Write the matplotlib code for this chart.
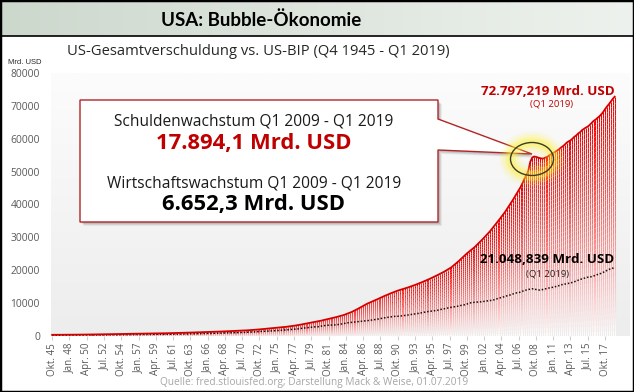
import numpy as np
import matplotlib
matplotlib.use("Agg")

import matplotlib.pyplot as plt
from matplotlib.colors import LinearSegmentedColormap
from matplotlib.lines import Line2D
from matplotlib.patches import Polygon, Ellipse, Rectangle

W, H = 634, 392

# US total credit market debt, Mrd. USD, quarterly Q4 1945 - Q1 2019
debt = [
    355,
    357, 360, 362, 365, 370, 375, 380, 385, 390, 395, 400, 405, 410, 415, 420, 425,
    435, 445, 455, 465, 472, 480, 488, 495, 503, 512, 521, 530, 538, 545, 553, 560,
    567, 575, 582, 590, 602, 615, 627, 640, 648, 657, 666, 675, 683, 692, 701, 710,
    720, 730, 740, 750, 763, 777, 791, 805, 816, 827, 839, 850, 863, 877, 891, 905,
    921, 937, 953, 970, 987, 1005, 1022, 1040, 1060, 1080, 1100, 1120, 1140, 1160, 1180, 1200,
    1220, 1240, 1260, 1280, 1300, 1320, 1340, 1360, 1385, 1410, 1435, 1460, 1485, 1510, 1535, 1560,
    1585, 1610, 1635, 1660, 1700, 1740, 1780, 1820, 1865, 1910, 1960, 2010, 2065, 2120, 2175, 2230,
    2285, 2340, 2395, 2450, 2500, 2550, 2600, 2650, 2725, 2800, 2875, 2950, 3035, 3120, 3210, 3300,
    3410, 3520, 3630, 3740, 3855, 3970, 4085, 4200, 4310, 4420, 4535, 4650, 4785, 4920, 5060, 5200,
    5335, 5470, 5610, 5750, 5910, 6070, 6235, 6400, 6620, 6840, 7070, 7300, 7590, 7880, 8190, 8500,
    8820, 9140, 9470, 9800, 10050, 10300, 10550, 10800, 11075, 11350, 11625, 11900, 12150, 12400, 12650, 12900,
    13125, 13350, 13575, 13800, 13975, 14150, 14325, 14500, 14700, 14900, 15100, 15300, 15525, 15750, 15975, 16200,
    16450, 16700, 16950, 17200, 17475, 17750, 18025, 18300, 18600, 18900, 19200, 19500, 19850, 20200, 20550, 20900,
    21400, 21900, 22400, 22900, 23450, 24000, 24550, 25100, 25575, 26050, 26525, 27000, 27575, 28150, 28725, 29300,
    29925, 30550, 31175, 31800, 32525, 33250, 33975, 34700, 35475, 36250, 37025, 37800, 38700, 39600, 40500, 41400,
    42375, 43350, 44325, 45300, 46500, 47800, 49000, 50200, 52900, 54200, 54600, 54500, 54300, 54100, 54000, 54000,
    54300, 54500, 55000, 55300, 55700, 56000, 56400, 56800, 57300, 57700, 58200, 58800, 59200, 59500, 60000, 60600,
    61000, 61600, 62000, 62600, 63000, 63400, 63700, 64200, 64800, 65400, 65800, 66300, 66800, 67400, 68100, 69000,
    69800, 70500, 71300, 72100,
    72797.219,
]

# US GDP, Mrd. USD, same quarters
gdp = [
    223,
    222, 226, 232, 238, 243, 246, 250, 260, 266, 273, 279, 280, 275, 271, 273, 271,
    281, 290, 308, 320, 336, 344, 352, 356, 360, 361, 368, 381, 389, 392, 391, 386,
    385, 386, 391, 400, 413, 422, 431, 437, 439, 446, 451, 460, 469, 472, 478, 472,
    462, 464, 475, 490, 507, 520, 521, 528, 542, 541, 545, 540, 545, 555, 567, 580,
    594, 600, 609, 612, 621, 629, 644, 653, 669, 679, 692, 698, 719, 732, 750, 773,
    797, 807, 820, 834, 846, 852, 868, 883, 912, 936, 950, 967, 994, 1010, 1030, 1038,
    1051, 1067, 1087, 1091, 1137, 1159, 1180, 1193, 1234, 1272, 1300, 1337, 1388, 1418, 1437, 1480,
    1501, 1531, 1560, 1600, 1617, 1650, 1712, 1763, 1823, 1856, 1890, 1938, 1992, 2060, 2122, 2168,
    2209, 2337, 2389, 2470, 2527, 2586, 2659, 2730, 2797, 2799, 2861, 2975, 3131, 3168, 3265, 3281,
    3274, 3332, 3367, 3407, 3480, 3584, 3692, 3796, 3912, 4016, 4085, 4148, 4237, 4300, 4387, 4444,
    4508, 4545, 4608, 4657, 4722, 4806, 4884, 5008, 5073, 5190, 5282, 5399, 5512, 5615, 5697, 5748,
    5873, 5960, 6015, 6004, 6036, 6126, 6205, 6264, 6363, 6470, 6566, 6680, 6729, 6809, 6882, 7014,
    7115, 7247, 7332, 7457, 7522, 7581, 7684, 7773, 7868, 8033, 8132, 8259, 8363, 8519, 8651, 8743,
    8832, 8924, 9028, 9171, 9297, 9406, 9519, 9721, 9900, 10102, 10160, 10255, 10273, 10374, 10381, 10434,
    10551, 10636, 10700, 10737, 10847, 10980, 11207, 11362, 11530, 11723, 11872, 12035, 12246, 12373, 12587, 12779,
    12982, 13126, 13200, 13363, 13631, 13826, 13993, 14157, 14240, 14342, 14360, 14151, 14012, 13987, 14064, 14222,
    14357, 14513, 14645, 14749, 14830, 15008, 15110, 15316, 15550, 15655, 15791, 15822, 16023, 16122, 16318, 16546,
    16709, 16988, 17231, 17337, 17555, 17742, 17878, 17923, 18065, 18255, 18437, 18686, 18879, 19061, 19339, 19640,
    19945, 20252, 20447, 20616,
    21048.839,
]

tick_labels = [
    "Okt. 45", "Jan. 48", "Apr. 50", "Jul. 52", "Okt. 54", "Jan. 57", "Apr. 59", "Jul. 61",
    "Okt. 63", "Jan. 66", "Apr. 68", "Jul. 70", "Okt. 72", "Jan. 75", "Apr. 77", "Jul. 79",
    "Okt. 81", "Jan. 84", "Apr. 86", "Jul. 88", "Okt. 90", "Jan. 93", "Apr. 95", "Jul. 97",
    "Okt. 99", "Jan. 02", "Apr. 04", "Jul. 06", "Okt. 08", "Jan. 11", "Apr. 13", "Jul. 15",
    "Okt. 17",
]
y_ticks = [0, 10000, 20000, 30000, 40000, 50000, 60000, 70000, 80000]


def P(x, y):
    # pixel position (from top-left) -> figure fraction
    return (x / W, 1 - y / H)


fig = plt.figure(figsize=(W / 100, H / 100), dpi=100)
fig.patch.set_facecolor("white")

# title banner
bax = fig.add_axes([0, 1 - 36 / H, 1, 36 / H])
banner_cmap = LinearSegmentedColormap.from_list("banner", ["#cdd8cd", "#eef2ee"])
bax.imshow(np.linspace(0, 1, 256)[None, :], aspect="auto", cmap=banner_cmap, extent=(0, 1, 0, 1))
bax.axis("off")
fig.add_artist(Line2D([0, 1], [1 - 36 / H] * 2, transform=fig.transFigure, color="black", lw=1.2))
fig.text(*P(261, 26), "USA: Bubble-Ökonomie", ha="center", va="baseline",
         fontsize=13.5, fontweight="bold", family="Lato", color="black")

fig.text(*P(258, 55), "US-Gesamtverschuldung vs. US-BIP (Q4 1945 - Q1 2019)",
         ha="center", va="baseline", fontsize=10.6, family="Open Sans", color="#262626")
fig.text(*P(8, 64), "Mrd. USD", ha="left", va="baseline", fontsize=5.5,
         family="Liberation Sans", color="#262626")

# chart
ax = fig.add_axes([51 / W, 1 - 336 / H, (630 - 51) / W, (336 - 73) / H])
bg_cmap = LinearSegmentedColormap.from_list("bg", ["#ededed", "#fcfcfc"])
ax.imshow(np.linspace(0, 1, 100)[:, None], cmap=bg_cmap, origin="lower",
          extent=(-0.6, 301, 0, 80000), aspect="auto", zorder=0)

x = np.arange(len(debt))

# debt columns: each column split into short pieces, red at the top fading to white
nseg = 40
frac = np.linspace(0, 1, nseg + 1)
seg_x = np.repeat(x, nseg)
seg_lo = (np.asarray(debt)[:, None] * frac[None, :-1]).ravel()
seg_hi = (np.asarray(debt)[:, None] * frac[None, 1:]).ravel()
t = np.tile((frac[:-1] + frac[1:]) / 2, len(debt))
red = np.array([0.95, 0.0, 0.0])
seg_cols = 1 - t[:, None] ** 0.95 * (1 - red)
ax.vlines(seg_x, seg_lo, seg_hi, colors=seg_cols, lw=0.75, zorder=2)

ax.plot(x, gdp, color="#111111", lw=1.1, ls=(0, (1, 1.2)), zorder=4)
ax.plot(x, debt, color="#d40000", lw=1.3, zorder=5)

ax.set_xlim(-0.6, 301)
ax.set_ylim(0, 80000)
ax.set_xticks(x[::9])
ax.set_xticklabels(tick_labels, rotation=90, fontsize=7, color="#595959", family="Open Sans")
ax.set_yticks(y_ticks)
ax.set_yticklabels([str(v) for v in y_ticks], fontsize=7.4, color="#595959", family="Open Sans")
ax.tick_params(axis="x", length=3, color="#d0d0d0", pad=2)
ax.tick_params(axis="y", length=0, pad=8)
for s in ax.spines.values():
    s.set_visible(False)

# callout box
box = [(80, 100), (438, 100), (438, 119), (532, 154), (438, 150), (438, 222), (80, 222)]
for off, a in [(4, 0.06), (3, 0.08), (2, 0.10)]:
    fig.add_artist(Polygon([P(px + off, py + off) for px, py in box], closed=True,
                           transform=fig.transFigure, facecolor=(0, 0, 0, a), edgecolor="none"))
fig.add_artist(Polygon([P(px, py) for px, py in box], closed=True, transform=fig.transFigure,
                       facecolor="white", edgecolor="#b02525", lw=1.0))

fig.text(*P(254, 125), "Schuldenwachstum Q1 2009 - Q1 2019", ha="center", va="baseline",
         fontsize=11.2, family="Open Sans", color="#1a1a1a")
fig.text(*P(254, 149), "17.894,1 Mrd. USD", ha="center", va="baseline",
         fontsize=15.8, fontweight="bold", family="Open Sans", color="#c00000")
fig.text(*P(254, 187), "Wirtschaftswachstum Q1 2009 - Q1 2019", ha="center", va="baseline",
         fontsize=11.2, family="Open Sans", color="#1a1a1a")
fig.text(*P(254, 210), "6.652,3 Mrd. USD", ha="center", va="baseline",
         fontsize=15.8, fontweight="bold", family="Open Sans", color="black")

# highlight circle with glow
cx, cy = P(532, 159)
for lw, a in [(16, 0.10), (12, 0.14), (8, 0.2), (5, 0.3)]:
    fig.add_artist(Ellipse((cx, cy), 43 / W, 33 / H, transform=fig.transFigure,
                           facecolor="none", edgecolor=(1, 0.95, 0.2, a), lw=lw))
fig.add_artist(Ellipse((cx, cy), 43 / W, 33 / H, transform=fig.transFigure,
                       facecolor="none", edgecolor="#3a3a2a", lw=1.0))

# end value labels
fig.text(*P(548, 95), "72.797,219 Mrd. USD", ha="center", va="baseline",
         fontsize=9.6, fontweight="bold", family="Open Sans", color="#c00000")
fig.text(*P(551, 107), "(Q1 2019)", ha="center", va="baseline",
         fontsize=6.8, family="Open Sans", color="#c00000")
fig.text(*P(547, 263), "21.048,839 Mrd. USD", ha="center", va="baseline",
         fontsize=9.6, fontweight="bold", family="Open Sans", color="black")
fig.text(*P(548, 276), "(Q1 2019)", ha="center", va="baseline",
         fontsize=6.8, family="Open Sans", color="#262626")

fig.text(*P(314, 385), "Quelle: fred.stlouisfed.org; Darstellung Mack & Weise, 01.07.2019",
         ha="center", va="baseline", fontsize=7.3, family="Open Sans", color="#a6a6a6")

fig.add_artist(Rectangle((0, 0), 1, 1, transform=fig.transFigure, fill=False,
                         edgecolor="black", lw=2.5))

fig.savefig("out.png", dpi=100)
plt.close(fig)
